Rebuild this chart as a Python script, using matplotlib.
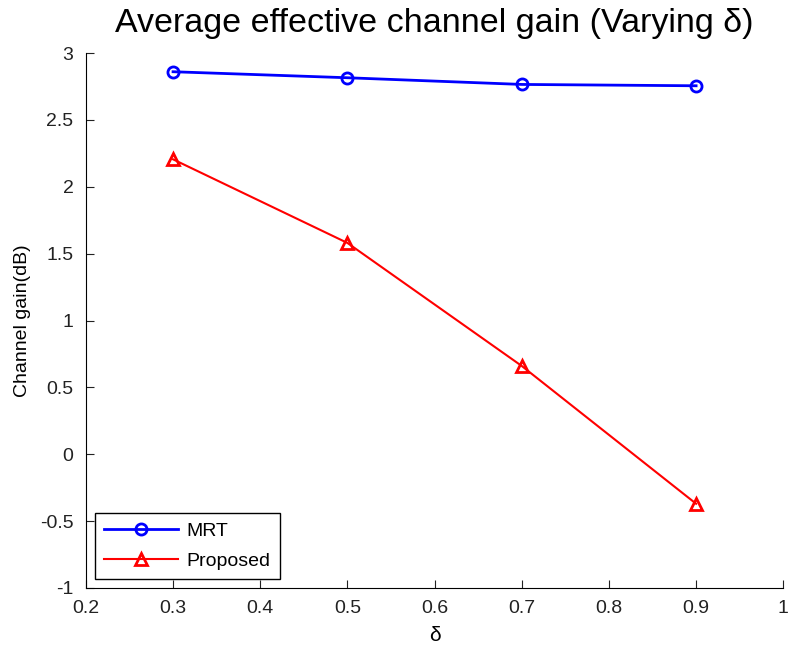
import numpy as np
import matplotlib
matplotlib.use('Agg')
import matplotlib.pyplot as plt

plt.rcParams['font.family'] = ['Liberation Sans', 'DejaVu Sans']

delta = [0.3, 0.5, 0.7, 0.9]
mrt = [2.86, 2.815, 2.765, 2.755]
proposed = [2.205, 1.58, 0.66, -0.37]

fig = plt.figure(figsize=(7.88, 6.48), dpi=100)
ax = fig.add_axes([0.109, 0.0926, 0.885, 0.8256])

ax.plot(delta, mrt, color='blue', lw=2, marker='o', ms=8, mfc='none', mew=2, label='MRT')
ax.plot(delta, proposed, color='red', lw=1.5, marker='^', ms=9, mfc='none', mew=2, label='Proposed')

ax.set_xlim(0.2, 1.0)
ax.set_ylim(-1, 3)
ax.set_xticks(np.arange(0.2, 1.01, 0.1))
ax.set_xticklabels(['0.2', '0.3', '0.4', '0.5', '0.6', '0.7', '0.8', '0.9', '1'])
ax.set_yticks(np.arange(-1, 3.01, 0.5))
ax.set_yticklabels(['-1', '-0.5', '0', '0.5', '1', '1.5', '2', '2.5', '3'])
ax.spines['top'].set_visible(False)
ax.spines['right'].set_visible(False)
ax.tick_params(direction='in', length=6, labelsize=14, colors='#222222', pad=9)
ax.set_xlabel('δ', fontsize=15, labelpad=6)
ax.set_ylabel('Channel gain(dB)', fontsize=14, labelpad=6)
ax.set_title('Average effective channel gain (Varying δ)', fontsize=24.5, pad=15)

leg = ax.legend(loc='lower left', fontsize=14, fancybox=False, edgecolor='black',
                framealpha=1, handlelength=3.8, borderaxespad=0.45,
                labelspacing=0.6, borderpad=0.5, handletextpad=0.4)
leg.get_frame().set_linewidth(1)

fig.savefig('out.png', dpi=100)
